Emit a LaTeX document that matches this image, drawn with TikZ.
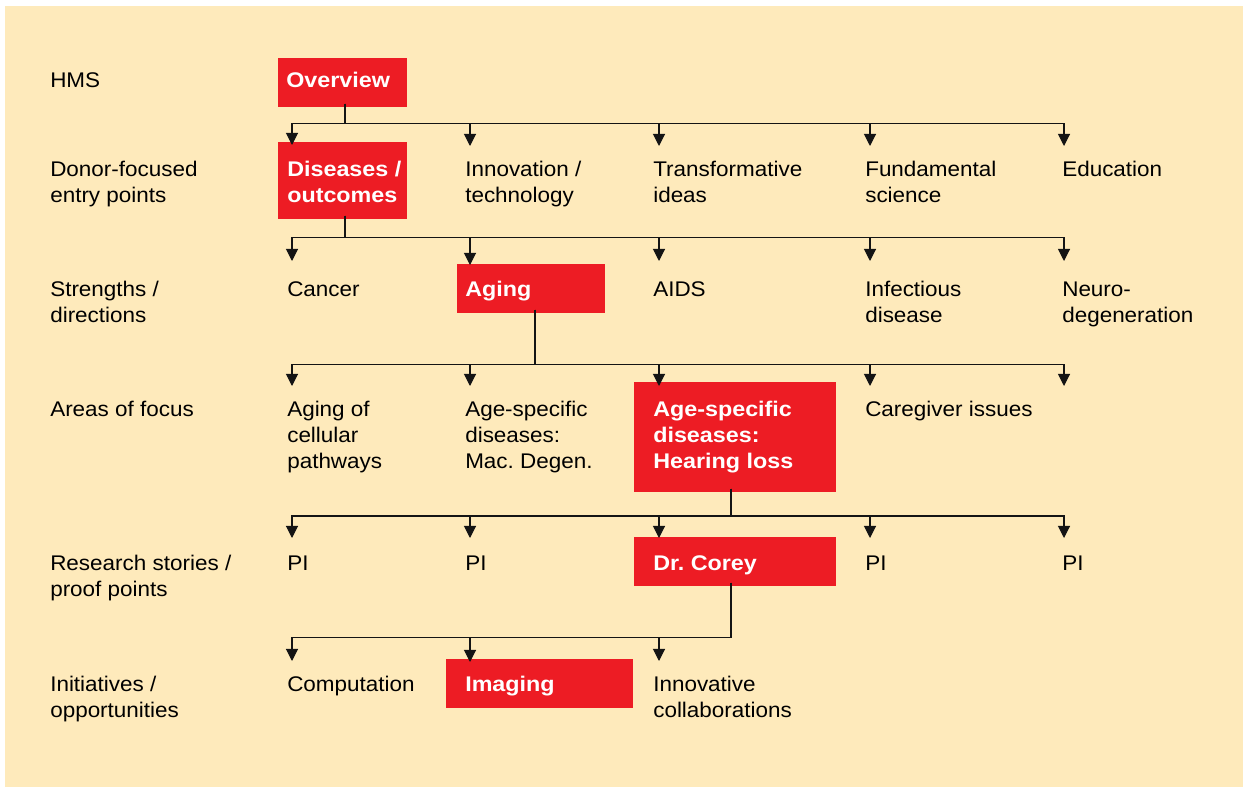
\documentclass[tikz,border=0pt]{standalone}
\usepackage{fontspec}
\setmainfont[FakeStretch=1.06, BoldFeatures={FakeStretch=1.1}]{Liberation Sans}
\usetikzlibrary{arrows.meta}
\definecolor{bgyellow}{RGB}{254,234,187}
\definecolor{boxred}{RGB}{237,28,36}
\definecolor{linegray}{RGB}{20,20,20}
\tikzset{
  x=0.75pt, y=-0.75pt,
  redbox/.style={fill=boxred, draw=none},
  txt/.style={anchor=base west, inner sep=0pt, text=black, font=\fontsize{15.9}{19.4}\selectfont},
  wtxt/.style={anchor=base west, inner sep=0pt, text=white, font=\fontsize{15.9}{19.4}\selectfont\bfseries},
  bus/.style={draw=linegray, line width=0.8pt},
  arr/.style={draw=linegray, line width=0.8pt, -{Triangle[width=9pt,length=9pt]}}
}
\newcommand{\ml}[1]{\begin{tabular}[t]{@{}l@{}}#1\end{tabular}}
\frenchspacing
\begin{document}
\begin{tikzpicture}
\useasboundingbox (0,0) rectangle (1247,787);
\fill[white] (0,0) rectangle (1247,787);
\fill[bgyellow] (5,6) rectangle (1242.5,787);

% red boxes
\path[redbox] (278,58) rectangle (407,107) node[pos=0.5] (ovbox) {};
\path[redbox] (278,142) rectangle (407,219) node[pos=0.5] (disbox) {};
\path[redbox] (457,264) rectangle (605,313) node[pos=0.5] (agbox) {};
\path[redbox] (634,382) rectangle (836,492) node[pos=0.5] (hlbox) {};
\path[redbox] (634,537) rectangle (836,586) node[pos=0.5] (cobox) {};
\path[redbox] (446,659) rectangle (633,708) node[pos=0.5] (imbox) {};

% row labels
\node[txt] (l1) at (50,88) {HMS};
\node[txt] (l2) at (50,176.5) {\ml{Donor-focused\\entry points}};
\node[txt] (l3) at (50,296.5) {\ml{Strengths /\\directions}};
\node[txt] (l4) at (50,417) {Areas of focus};
\node[txt] (l5) at (50,570.5) {\ml{Research stories /\\proof points}};
\node[txt] (l6) at (50,691.5) {\ml{Initiatives /\\opportunities}};

% row 1
\node[wtxt] (ov) at (286,88) {Overview};
% row 2
\node[wtxt] (r2a) at (287,176.5) {\ml{Diseases /\\outcomes}};
\node[txt] (r2b) at (465,176.5) {\ml{Innovation /\\technology}};
\node[txt] (r2c) at (653,176.5) {\ml{Transformative\\ideas}};
\node[txt] (r2d) at (865,176.5) {\ml{Fundamental\\science}};
\node[txt] (r2e) at (1062,176.5) {Education};
% row 3
\node[txt] (r3a) at (287,296.5) {Cancer};
\node[wtxt] (r3b) at (465,296.5) {Aging};
\node[txt] (r3c) at (653,296.5) {AIDS};
\node[txt] (r3d) at (865,296.5) {\ml{Infectious\\disease}};
\node[txt] (r3e) at (1062,296.5) {\ml{Neuro-\\degeneration}};
% row 4
\node[txt] (r4a) at (287,417) {\ml{Aging of\\cellular\\pathways}};
\node[txt] (r4b) at (465,417) {\ml{Age-specific\\diseases:\\Mac. Degen.}};
\node[wtxt] (r4c) at (653,417) {\ml{Age-specific\\diseases:\\Hearing loss}};
\node[txt] (r4d) at (865,417) {Caregiver issues};
% row 5
\node[txt] (r5a) at (287,570.5) {PI};
\node[txt] (r5b) at (465,570.5) {PI};
\node[wtxt] (r5c) at (653,570.5) {Dr. Corey};
\node[txt] (r5d) at (865,570.5) {PI};
\node[txt] (r5e) at (1062,570.5) {PI};
% row 6
\node[txt] (r6a) at (287,691.5) {Computation};
\node[wtxt] (r6b) at (465,691.5) {Imaging};
\node[txt] (r6c) at (653,691.5) {\ml{Innovative\\collaborations}};

% drop points and bus junctions
\coordinate (d1) at (345,104);  \coordinate (j1) at (345,123.3);
\coordinate (d2) at (345,216);  \coordinate (j2) at (345,237.3);
\coordinate (d3) at (535,310);  \coordinate (j3) at (535,364.3);
\coordinate (d4) at (731,489);  \coordinate (j4) at (731,516);
\coordinate (d5) at (731,583);  \coordinate (j5) at (731,637.5);

% arrow tips
\coordinate (t2a) at (292,145); \coordinate (t2b) at (470,146); \coordinate (t2c) at (659,146);
\coordinate (t2d) at (870,146); \coordinate (t2e) at (1064,146);
\coordinate (t3a) at (292,261); \coordinate (t3b) at (470,265); \coordinate (t3c) at (659,261);
\coordinate (t3d) at (870,261); \coordinate (t3e) at (1064,261);
\coordinate (t4a) at (292,386); \coordinate (t4b) at (470,386); \coordinate (t4c) at (659,386);
\coordinate (t4d) at (870,386); \coordinate (t4e) at (1064,386);
\coordinate (t5a) at (292,538); \coordinate (t5b) at (470,538); \coordinate (t5c) at (659,538);
\coordinate (t5d) at (870,538); \coordinate (t5e) at (1064,538);
\coordinate (t6a) at (292,661); \coordinate (t6b) at (470,662); \coordinate (t6c) at (659,661);

% connectors
\foreach \t in {t2a,t2b,t2c,t2d,t2e} \draw[arr] (d1) -- (j1) -| (\t);
\foreach \t in {t3a,t3b,t3c,t3d,t3e} \draw[arr] (d2) -- (j2) -| (\t);
\foreach \t in {t4a,t4b,t4c,t4d,t4e} \draw[arr] (d3) -- (j3) -| (\t);
\foreach \t in {t5a,t5b,t5c,t5d,t5e} \draw[arr] (d4) -- (j4) -| (\t);
\foreach \t in {t6a,t6b,t6c} \draw[arr] (d5) -- (j5) -| (\t);
\end{tikzpicture}
\end{document}
